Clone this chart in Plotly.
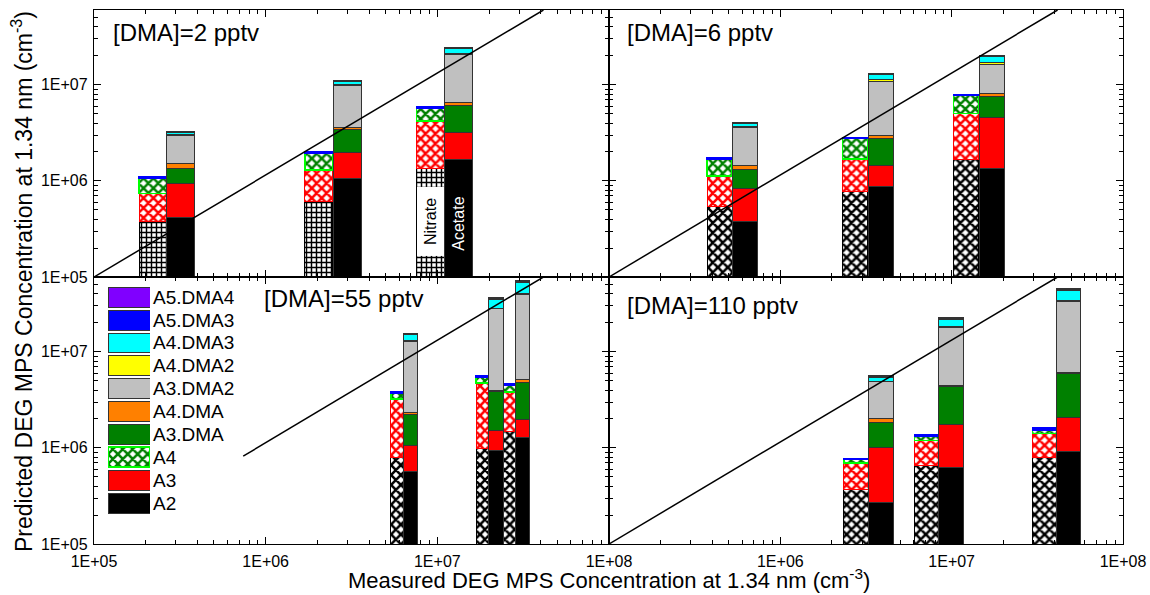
import numpy as np
import plotly.graph_objects as go

FONT = "Liberation Sans, Arial, sans-serif"
W, H = 1150, 595

# ---- cluster species and colours -------------------------------------------
nitrate_species = ["A2", "A3", "A4", "A5.DMA3"]
acetate_species = ["A2", "A3", "A3.DMA", "A4.DMA", "A3.DMA2",
                   "A4.DMA2", "A4.DMA3", "A5.DMA3", "A5.DMA4"]
species_colors = {
    "A2": "#000000", "A3": "#ff0000", "A4": "#008000", "A3.DMA": "#008000",
    "A4.DMA": "#ff8000", "A3.DMA2": "#c0c0c0", "A4.DMA2": "#ffff00",
    "A4.DMA3": "#00ffff", "A5.DMA3": "#0000ff", "A5.DMA4": "#8000ff",
}

# ---- panel labels ----------------------------------------------------------
panel_labels = ["[DMA]=2 pptv", "[DMA]=6 pptv", "[DMA]=55 pptv", "[DMA]=110 pptv"]

# ---- measured concentrations (x positions, cm^-3) --------------------------
meas_nitrate_2 = [2.21e5, 2.04e6, 9.12e6]
meas_acetate_2 = [3.21e5, 2.99e6, 1.33e7]
meas_nitrate_6 = [4.42e5, 2.73e6, 1.21e7]
meas_acetate_6 = [6.18e5, 3.85e6, 1.71e7]
meas_nitrate_55 = [5.83e6, 1.83e7, 2.64e7]
meas_acetate_55 = [7.00e6, 2.20e7, 3.14e7]
meas_nitrate_110 = [2.77e6, 7.14e6, 3.49e7]
meas_acetate_110 = [3.87e6, 9.91e6, 4.82e7]

# ---- predicted contributions per cluster (cm^-3) ---------------------------
nitrate_2 = {
    "A2": [3.8e5, 6.1e5, 1.35e6],
    "A3": [3.55e5, 6.9e5, 2.85e6],
    "A4": [3.35e5, 6.6e5, 1.55e6],
    "A5.DMA3": [3.5e4, 7e4, 2.0e5],
}
acetate_2 = {
    "A2": [4.2e5, 1.05e6, 1.67e6],
    "A3": [5.3e5, 9.3e5, 1.55e6],
    "A3.DMA": [4.0e5, 1.42e6, 2.8e6],
    "A4.DMA": [1.7e5, 2.0e5, 5.0e5],
    "A3.DMA2": [1.45e6, 6.2e6, 1.39e7],
    "A4.DMA2": [9e4, 2.5e5, 9e5],
    "A4.DMA3": [1.3e5, 8e5, 2.3e6],
    "A5.DMA3": [8e4, 2.5e5, 5.5e5],
    "A5.DMA4": [2e4, 5e4, 1.5e5],
}
nitrate_6 = {
    "A2": [5.4e5, 7.8e5, 1.65e6],
    "A3": [5.9e5, 9.1e5, 3.4e6],
    "A4": [5.7e5, 1.06e6, 2.65e6],
    "A5.DMA3": [5e4, 8e4, 2.5e5],
}
acetate_6 = {
    "A2": [3.8e5, 8.7e5, 1.33e6],
    "A3": [4.5e5, 5.9e5, 3.21e6],
    "A3.DMA": [4.7e5, 1.29e6, 3.06e6],
    "A4.DMA": [1.3e5, 2.2e5, 6e5],
    "A3.DMA2": [2.14e6, 7.93e6, 8.1e6],
    "A4.DMA2": [1.3e5, 4e5, 7e5],
    "A4.DMA3": [2.6e5, 1.4e6, 2.5e6],
    "A5.DMA3": [1.1e5, 3.5e5, 7e5],
    "A5.DMA4": [3e4, 1.5e5, 2e5],
}
nitrate_55 = {
    "A2": [7.9e5, 9.9e5, 1.48e6],
    "A3": [2.44e6, 3.73e6, 2.32e6],
    "A4": [4.8e5, 6.8e5, 7.3e5],
    "A5.DMA3": [1.4e5, 2.0e5, 1.7e5],
}
acetate_55 = {
    "A2": [5.7e5, 9.3e5, 1.28e6],
    "A3": [4.9e5, 5.8e5, 7.1e5],
    "A3.DMA": [1.15e6, 2.34e6, 2.84e6],
    "A4.DMA": [1.4e5, 1.5e5, 2.7e5],
    "A3.DMA2": [1.04e7, 2.39e7, 3.42e7],
    "A4.DMA2": [4e5, 6e5, 1.3e6],
    "A4.DMA3": [2.1e6, 6.4e6, 1.15e7],
    "A5.DMA3": [3e5, 1.2e6, 1.5e6],
    "A5.DMA4": [1e5, 8e5, 1.5e6],
}
nitrate_110 = {
    "A2": [3.7e5, 6.5e5, 8.0e5],
    "A3": [3.3e5, 5.5e5, 6.2e5],
    "A4": [5.5e4, 1.2e5, 1.2e5],
    "A5.DMA3": [2.5e4, 4e4, 8e4],
}
acetate_110 = {
    "A2": [2.7e5, 6.2e5, 9.2e5],
    "A3": [7.5e5, 1.12e6, 1.14e6],
    "A3.DMA": [8.0e5, 2.6e6, 3.9e6],
    "A4.DMA": [1.8e5, 1.6e5, 1.4e5],
    "A3.DMA2": [2.89e6, 1.34e7, 2.71e7],
    "A4.DMA2": [6e4, 3e5, 6e5],
    "A4.DMA3": [4.5e5, 3.6e6, 9.8e6],
    "A5.DMA3": [1.5e5, 5e5, 1.2e6],
    "A5.DMA4": [5e4, 2e5, 1.2e6],
}

# ---- reference line end points (cm^-3) ------------------------------------
line_x_full = [1.0e5, 4.15e7]
line_y_full = [1.0e5, 6.0e7]
line_x_55 = [7.4e5, 4.15e7]
line_y_55 = [8.2e5, 6.0e7]

# ---- axes ------------------------------------------------------------------
x_tick_vals = [5, 6, 7, 8]
x_tick_text = ["1E+05", "1E+06", "1E+07", "1E+08"]
y_tick_vals = [1e5, 1e6, 1e7]
y_tick_text = ["1E+05", "1E+06", "1E+07"]
Y_MAX = 6e7

panels = [
    dict(nit=nitrate_2, ace=acetate_2, xn=meas_nitrate_2, xa=meas_acetate_2,
         wn=0.163, wa=0.163, grid=True, lx=line_x_full, ly=line_y_full),
    dict(nit=nitrate_6, ace=acetate_6, xn=meas_nitrate_6, xa=meas_acetate_6,
         wn=0.146, wa=0.146, grid=False, lx=line_x_full, ly=line_y_full),
    dict(nit=nitrate_55, ace=acetate_55, xn=meas_nitrate_55, xa=meas_acetate_55,
         wn=0.073, wa=0.084, grid=False, lx=line_x_55, ly=line_y_55),
    dict(nit=nitrate_110, ace=acetate_110, xn=meas_nitrate_110, xa=meas_acetate_110,
         wn=0.143, wa=0.143, grid=False, lx=line_x_full, ly=line_y_full),
]

fig = go.Figure()

nitrate_line = {"A2": ("#000000", 1), "A3": ("#ff0000", 1),
                "A4": ("#00ff00", 1.5), "A5.DMA3": ("#0000ff", 1.5)}

for i, p in enumerate(panels):
    ax = "" if i == 0 else str(i + 1)
    xref, yref = "x" + ax, "y" + ax
    xn = np.log10(p["xn"])
    xa = np.log10(p["xa"])
    # nitrate bars: hatched
    for sp in nitrate_species:
        col = species_colors[sp]
        lc, lw = nitrate_line[sp]
        if sp == "A5.DMA3":
            pattern = dict(shape="")
        elif sp == "A2" and p["grid"]:
            pattern = dict(shape="+", fgcolor="#000000", bgcolor="#ffffff",
                           size=5, solidity=0.5, fillmode="replace")
        else:
            pattern = dict(shape="x", fgcolor=col, bgcolor="#ffffff",
                           size=7, solidity=0.6, fillmode="replace")
        fig.add_trace(go.Bar(
            x=xn, y=p["nit"][sp], width=p["wn"], xaxis=xref, yaxis=yref,
            marker=dict(color=col, pattern=pattern, line=dict(color=lc, width=lw)),
            showlegend=False, name=sp, hoverinfo="skip"))
    # acetate bars: solid
    for sp in acetate_species:
        fig.add_trace(go.Bar(
            x=xa, y=p["ace"][sp], width=p["wa"], xaxis=xref, yaxis=yref,
            marker=dict(color=species_colors[sp], line=dict(color="#333333", width=1)),
            showlegend=False, name=sp, hoverinfo="skip"))
    fig.add_trace(go.Scatter(
        x=np.log10(p["lx"]), y=p["ly"], mode="lines", xaxis=xref, yaxis=yref,
        line=dict(color="black", width=1.5), showlegend=False, hoverinfo="skip"))

# ---- legend swatches drawn as a small bar chart ---------------------------
legend_order = ["A2", "A3", "A4", "A3.DMA", "A4.DMA", "A3.DMA2",
                "A4.DMA2", "A4.DMA3", "A5.DMA3", "A5.DMA4"]
fig.add_trace(go.Bar(
    x=[1] * len(legend_order), y=list(range(len(legend_order))), orientation="h",
    width=0.87, xaxis="x5", yaxis="y5",
    marker=dict(
        color=[species_colors[s] for s in legend_order],
        pattern=dict(shape=["x" if s == "A4" else "" for s in legend_order],
                     fgcolor=[species_colors[s] for s in legend_order],
                     bgcolor="#ffffff", size=7, solidity=0.6, fillmode="replace"),
        line=dict(color=["#00ff00" if s == "A4" else "#333333" for s in legend_order],
                  width=[2 if s == "A4" else 1 for s in legend_order])),
    text=legend_order, textposition="outside", cliponaxis=False, constraintext="none",
    outsidetextfont=dict(family=FONT, size=19, color="black"),
    showlegend=False, hoverinfo="skip"))

# ---- layout ----------------------------------------------------------------
xl = [94 / W, 609 / W]
xr = [609 / W, 1123 / W]
yt = [1 - 277 / H, 1 - 10 / H]
yb = [1 - 544 / H, 1 - 277 / H]

x_minor = [np.log10(m * 10.0 ** d) for d in range(5, 8) for m in range(2, 10)]
y_minor = [m * 10.0 ** d for d in range(5, 8) for m in range(2, 10) if m * 10.0 ** d < Y_MAX]

common = dict(showline=True, linecolor="black", linewidth=1.3, mirror="allticks",
              ticks="inside", ticklen=7, tickwidth=1, tickcolor="black",
              showgrid=False, zeroline=False, automargin=False,
              tickfont=dict(family=FONT, size=16, color="black"))


def xaxis(domain, anchor, labels):
    d = dict(common, domain=domain, anchor=anchor, range=[5, 8],
             tickmode="array", tickvals=x_tick_vals,
             minor=dict(tickmode="array", tickvals=x_minor, ticks="inside",
                        ticklen=4, tickcolor="black", showgrid=False))
    if labels is None:
        d["showticklabels"] = False
    else:
        d["ticktext"] = labels
        d["ticklabelstandoff"] = 3
    return d


def yaxis(domain, anchor, labels):
    d = dict(common, domain=domain, anchor=anchor, type="log",
             range=[5, np.log10(Y_MAX)], tickmode="array", tickvals=y_tick_vals,
             minor=dict(tickmode="array", tickvals=y_minor, ticks="inside",
                        ticklen=4, tickcolor="black", showgrid=False))
    if labels is None:
        d["showticklabels"] = False
    else:
        d["ticktext"] = labels
        d["ticklabelstandoff"] = 2
    return d


bottom_right_text = [""] + x_tick_text[1:]

annotations = []
label_pos = [(111, 32), (625, 32), (262, 298), (625, 305)]
for lab, (px, py) in zip(panel_labels, label_pos):
    annotations.append(dict(text=lab, xref="paper", yref="paper", x=px / W, y=1 - py / H,
                            xanchor="left", yanchor="middle", showarrow=False,
                            font=dict(family=FONT, size=24, color="black")))

# bar-type labels on the third [DMA]=2 pair
annotations.append(dict(text="Nitrate", xref="x", yref="y",
                        x=float(np.log10(meas_nitrate_2[2])), y=5.583, textangle=-90,
                        showarrow=False, bgcolor="white", width=66, height=24,
                        font=dict(family=FONT, size=16, color="black")))
annotations.append(dict(text="Acetate", xref="x", yref="y",
                        x=float(np.log10(meas_acetate_2[2])), y=5.55, textangle=-90,
                        showarrow=False, font=dict(family=FONT, size=16, color="white")))

annotations.append(dict(text="Measured DEG MPS Concentration at 1.34 nm (cm<sup>-3</sup>)",
                        xref="paper", yref="paper", x=609 / W, y=1 - 579 / H,
                        xanchor="center", yanchor="middle", showarrow=False,
                        font=dict(family=FONT, size=22, color="black")))
annotations.append(dict(text="Predicted DEG MPS Concentration at 1.34 nm (cm<sup>-3</sup>)",
                        xref="paper", yref="paper", x=22 / W, y=1 - 282 / H,
                        xanchor="center", yanchor="middle", textangle=-90, showarrow=False,
                        font=dict(family=FONT, size=23, color="black")))

fig.update_layout(
    width=W, height=H, margin=dict(l=0, r=0, t=0, b=0, autoexpand=False),
    paper_bgcolor="white", plot_bgcolor="white", barmode="stack",
    font=dict(family=FONT, color="black"),
    xaxis=xaxis(xl, "y", None),
    yaxis=yaxis(yt, "x", y_tick_text),
    xaxis2=xaxis(xr, "y2", None),
    yaxis2=yaxis(yt, "x2", None),
    xaxis3=xaxis(xl, "y3", x_tick_text),
    yaxis3=yaxis(yb, "x3", y_tick_text),
    xaxis4=xaxis(xr, "y4", bottom_right_text),
    yaxis4=yaxis(yb, "x4", None),
    xaxis5=dict(domain=[108 / W, 150 / W], anchor="y5", range=[0, 1], visible=False),
    yaxis5=dict(domain=[1 - 514.5 / H, 1 - 285.8 / H], anchor="x5", range=[-0.5, 9.5],
                visible=False),
    annotations=annotations,
)

fig.write_html("out.html")
